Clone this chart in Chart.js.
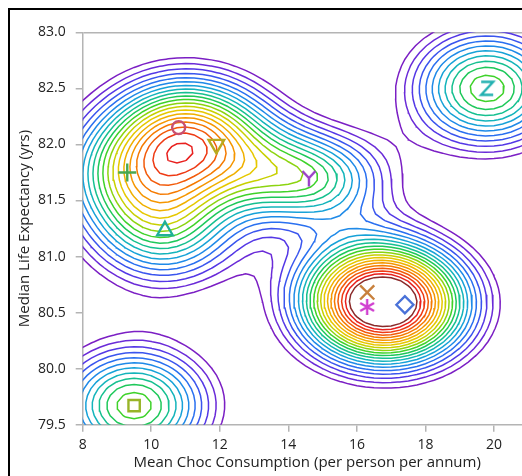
<!DOCTYPE html>
<html><head><meta charset="utf-8">
<script src="https://cdn.jsdelivr.net/npm/chart.js@4.4.0/dist/chart.umd.min.js"></script>
<style>
html,body{margin:0;padding:0;overflow:hidden;background:#fff;width:522px;height:476px;}
#frame{position:absolute;left:8px;top:8px;border:2px solid #000;width:540px;height:480px;}
canvas{display:block;}
</style></head><body>
<div id="frame"><canvas id="c" width="540" height="466"></canvas></div>
<script>
// ---- data ----
const markerLabels = ['Circle','TriangleDown','Plus','Y','TriangleUp','Cross','Star','Diamond','Square','Z'];
const markerX = [10.8, 11.9, 9.3, 14.6, 10.4, 16.3, 16.3, 17.4, 9.5, 19.8];
const markerY = [82.15, 82.0, 81.75, 81.7, 81.23, 80.68, 80.55, 80.57, 79.67, 82.5];
const markerWeight = [0.72, 0.6, 0.66, 0.85, 0.74, 0.6, 0.6, 0.9, 1.0, 1.0];
const markerSpreadY = [1, 1, 1, 0.8, 1, 1, 1, 1, 1, 1];
const contourLevels = [0.25,0.32,0.39,0.46,0.53,0.60,0.67,0.74,0.81,0.88,0.95,1.02,1.09,1.16,1.23,1.30,1.37,1.44,1.51,1.58,1.65];
const xTicks = [8,10,12,14,16,18,20];
const yTicks = [79.5,80.0,80.5,81.0,81.5,82.0,82.5,83.0];

// ---- styles ----
const levelColors = ['#7b1fc4','#6a2bd8','#5438e6','#3a55ee','#2a70f0','#1f8ae8','#17a2d8','#14b4bb','#16c090','#1ec85a','#3fd22a','#8cd410','#c8d000','#e6c800','#f0b000','#f59600','#f57a00','#f25a0a','#ee3a14','#e8201e','#8b2a2a'];
const markerColors = ['#c85070','#b8aa20','#48a850','#9a40c8','#20b098','#c8803c','#d040d0','#4a72d8','#98b428','#20b0b0'];
const sigmaX = 1.58, sigmaY = 0.375;

function density(x, y) {
  let s = 0;
  for (let i = 0; i < markerX.length; i++) {
    const dx = (x - markerX[i]) / sigmaX, dy = (y - markerY[i]) / (sigmaY * markerSpreadY[i]);
    s += markerWeight[i] * Math.exp(-0.5 * (dx * dx + dy * dy));
  }
  return s;
}
const gx0 = 6, gx1 = 23, gdx = 0.25, gy0 = 78.8, gy1 = 83.8, gdy = 0.06;
const nx = Math.round((gx1 - gx0) / gdx) + 1, ny = Math.round((gy1 - gy0) / gdy) + 1;
const G = [];
for (let j = 0; j < ny; j++) { const row = []; for (let i = 0; i < nx; i++) row.push(density(gx0 + i * gdx, gy0 + j * gdy)); G.push(row); }

function contour(L) {
  const segs = [], pt = {};
  function ep(key, x1, y1, v1, x2, y2, v2) {
    if (!pt[key]) { const t = (L - v1) / (v2 - v1); pt[key] = {x: x1 + t * (x2 - x1), y: y1 + t * (y2 - y1)}; }
    return key;
  }
  for (let j = 0; j < ny - 1; j++) for (let i = 0; i < nx - 1; i++) {
    const a = G[j][i], b = G[j][i + 1], c = G[j + 1][i + 1], d = G[j + 1][i];
    const idx = (a >= L ? 1 : 0) | (b >= L ? 2 : 0) | (c >= L ? 4 : 0) | (d >= L ? 8 : 0);
    if (idx === 0 || idx === 15) continue;
    const x0 = gx0 + i * gdx, x1 = x0 + gdx, y0 = gy0 + j * gdy, y1 = y0 + gdy;
    const E = [
      () => ep('h' + i + '_' + j, x0, y0, a, x1, y0, b),
      () => ep('v' + (i + 1) + '_' + j, x1, y0, b, x1, y1, c),
      () => ep('h' + i + '_' + (j + 1), x0, y1, d, x1, y1, c),
      () => ep('v' + i + '_' + j, x0, y0, a, x0, y1, d)
    ];
    let pairs;
    const ctr = (a + b + c + d) / 4;
    switch (idx) {
      case 1: case 14: pairs = [[3, 0]]; break;
      case 2: case 13: pairs = [[0, 1]]; break;
      case 3: case 12: pairs = [[3, 1]]; break;
      case 4: case 11: pairs = [[1, 2]]; break;
      case 6: case 9: pairs = [[0, 2]]; break;
      case 7: case 8: pairs = [[3, 2]]; break;
      case 5: pairs = ctr >= L ? [[0, 1], [2, 3]] : [[3, 0], [1, 2]]; break;
      case 10: pairs = ctr >= L ? [[3, 0], [1, 2]] : [[0, 1], [2, 3]]; break;
    }
    for (const [p, q] of pairs) segs.push([E[p](), E[q]()]);
  }
  const adj = {};
  segs.forEach((s, k) => { (adj[s[0]] = adj[s[0]] || []).push(k); (adj[s[1]] = adj[s[1]] || []).push(k); });
  const used = new Array(segs.length).fill(false);
  const lines = [];
  for (let k = 0; k < segs.length; k++) {
    if (used[k]) continue;
    used[k] = true;
    const chain = [segs[k][0], segs[k][1]];
    const extend = (atEnd) => {
      while (true) {
        const key = atEnd ? chain[chain.length - 1] : chain[0];
        const nxt = (adj[key] || []).find(m => !used[m]);
        if (nxt === undefined) break;
        used[nxt] = true;
        const s = segs[nxt], other = s[0] === key ? s[1] : s[0];
        if (atEnd) chain.push(other); else chain.unshift(other);
      }
    };
    extend(true); extend(false);
    lines.push(chain.map(key => pt[key]));
  }
  return lines;
}

function makeMark(size, color, draw) {
  const c = document.createElement('canvas'); c.width = size; c.height = size;
  const g = c.getContext('2d'); g.strokeStyle = color; g.lineWidth = 2.4; g.lineCap = 'butt'; g.lineJoin = 'miter';
  g.translate(size / 2, size / 2); draw(g); return c;
}
const yMark = makeMark(24, markerColors[3], g => { g.beginPath(); g.moveTo(-6.5, -7); g.lineTo(0, 0); g.lineTo(6.5, -7); g.moveTo(0, 0); g.lineTo(0, 8.5); g.stroke(); });
const starMark = makeMark(24, markerColors[6], g => {
  g.beginPath();
  [90, 30, 150].forEach(a => { const r = 8, t = a * Math.PI / 180; g.moveTo(-r * Math.cos(t), -r * Math.sin(t)); g.lineTo(r * Math.cos(t), r * Math.sin(t)); });
  g.stroke();
});
const zMark = makeMark(24, markerColors[9], g => { g.beginPath(); g.moveTo(-6, -6.5); g.lineTo(6, -6.5); g.lineTo(-6, 6.5); g.lineTo(6, 6.5); g.stroke(); });

const contourDatasets = contourLevels.map((L, k) => {
  const data = [];
  contour(L).forEach(line => { line.forEach(p => data.push(p)); data.push({x: NaN, y: NaN}); });
  return {type: 'scatter', data, showLine: true, borderColor: levelColors[k], borderWidth: 1.5, pointRadius: 0, pointHitRadius: 0, spanGaps: false, order: 1, tension: 0};
});

const markerDataset = {
  type: 'scatter', order: 0,
  data: markerX.map((x, i) => ({x, y: markerY[i]})),
  pointStyle: ['circle', 'triangle', 'cross', yMark, 'triangle', 'crossRot', starMark, 'rectRot', 'rect', zMark],
  pointRotation: [0, 180, 0, 0, 0, 0, 0, 0, 0, 0],
  pointRadius: [6.5, 9, 9, 10, 9, 10, 8, 8.5, 8, 10],
  pointBorderColor: markerColors,
  pointBackgroundColor: 'rgba(0,0,0,0)',
  pointBorderWidth: 2.4,
  showLine: false
};

Chart.defaults.font.family = "'Open Sans', 'Noto Sans', sans-serif";
Chart.defaults.color = '#222';
const axisGray = '#b4b4b4';
new Chart(document.getElementById('c'), {
  type: 'scatter',
  data: {datasets: [markerDataset, ...contourDatasets]},
  options: {
    responsive: false, animation: false, events: [],
    layout: {padding: {top: 22.3, right: 18.3, left: 0, bottom: 0}},
    plugins: {legend: {display: false}, tooltip: {enabled: false}},
    scales: {
      x: {
        type: 'linear', min: 8, max: 21.1,
        afterBuildTicks: s => { s.ticks = xTicks.map(v => ({value: v})); },
        ticks: {font: {size: 14}, padding: 5, callback: v => String(v), maxRotation: 0},
        grid: {drawOnChartArea: false, color: axisGray, tickColor: axisGray, tickLength: 7, lineWidth: 1.5},
        border: {color: axisGray, width: 1.5},
        title: {display: true, text: 'Mean Choc Consumption (per person per annum)', font: {size: 15}, padding: {top: 0, bottom: 4}},
        afterFit: s => { s.height = 51.3; }
      },
      y: {
        type: 'linear', min: 79.5, max: 83,
        afterBuildTicks: s => { s.ticks = yTicks.map(v => ({value: v})); },
        ticks: {font: {size: 14}, padding: 10, callback: v => Number(v).toFixed(1)},
        grid: {drawOnChartArea: true, color: c => (c.tick && c.tick.value === 83) ? axisGray : 'rgba(0,0,0,0)', tickColor: axisGray, tickLength: 7, lineWidth: 1.5},
        border: {color: axisGray, width: 1.5},
        title: {display: true, text: 'Median Life Expectancy (yrs)', font: {size: 15}, padding: {top: 6, bottom: 0}},
        afterFit: s => { s.width = 72.7; }
      }
    }
  }
});
</script>
</body></html>
